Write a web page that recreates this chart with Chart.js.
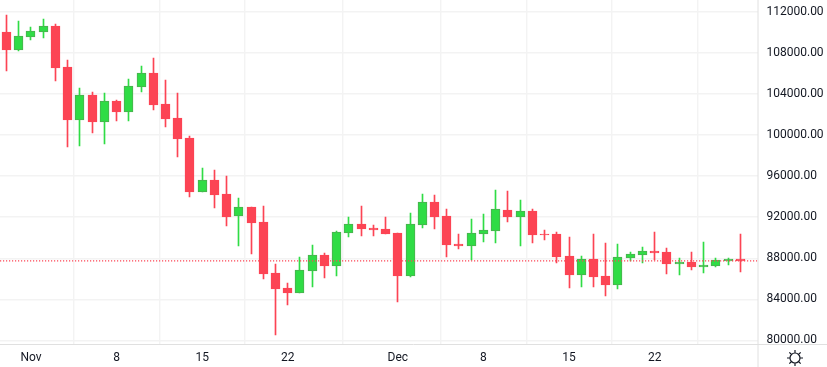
<!DOCTYPE html>
<html>
<head>
<meta charset="utf-8">
<style>
  html, body { margin: 0; padding: 0; background: #fff; }
  #wrap { width: 827px; height: 367px; }
</style>
<script src="https://cdn.jsdelivr.net/npm/chart.js@4"></script>
</head>
<body>
<div id="wrap"><canvas id="btcChart" width="827" height="367"></canvas></div>
<script>
const days = [
  "Oct 30", "Oct 31", "Nov 1", "Nov 2", "Nov 3", "Nov 4", "Nov 5", "Nov 6", "Nov 7", "Nov 8", "Nov 9",
  "Nov 10", "Nov 11", "Nov 12", "Nov 13", "Nov 14", "Nov 15", "Nov 16", "Nov 17", "Nov 18", "Nov 19",
  "Nov 20", "Nov 21", "Nov 22", "Nov 23", "Nov 24", "Nov 25", "Nov 26", "Nov 27", "Nov 28", "Nov 29",
  "Nov 30", "Dec 1", "Dec 2", "Dec 3", "Dec 4", "Dec 5", "Dec 6", "Dec 7", "Dec 8", "Dec 9",
  "Dec 10", "Dec 11", "Dec 12", "Dec 13", "Dec 14", "Dec 15", "Dec 16", "Dec 17", "Dec 18", "Dec 19",
  "Dec 20", "Dec 21", "Dec 22", "Dec 23", "Dec 24", "Dec 25", "Dec 26", "Dec 27", "Dec 28", "Dec 29"
];
const opens = [
  110003, 108250, 109516, 110003, 110587, 106593, 101431, 103866, 101236, 103282, 102210,
  104645, 106009, 102990, 101625, 99679, 94418, 95587, 94224, 92081, 92957,
  91496, 86528, 85067, 84580, 86723, 88282, 87210, 90425, 91301, 90912,
  90815, 90425, 86237, 91204, 93445, 92081, 89354, 89159, 90328, 90620,
  92666, 91984, 92568, 90328, 90328, 88185, 86334, 87893, 86237, 85360,
  87990, 88283, 88672, 88575, 87406, 87601, 87114, 87211, 87698, 87893
];
const highs = [
  111659, 111074, 110490, 111269, 110782, 107275, 104548, 104158, 104061, 103380, 105425,
  106691, 107470, 105327, 104061, 99873, 96756, 96562, 95977, 93834, 92957,
  93055, 87405, 85554, 88087, 89256, 88477, 90619, 91983, 93055, 91204,
  91984, 90425, 92373, 94224, 94127, 92763, 90328, 91789, 92276, 94614,
  94516, 93640, 92763, 90717, 90523, 90036, 88185, 90328, 89451, 89354,
  88575, 89062, 90523, 88965, 87990, 88575, 89549, 87990, 87990, 90328
];
const lows = [
  106204, 108152, 109224, 109418, 105230, 98800, 98898, 100165, 99093, 101333, 101333,
  104158, 102405, 100749, 97827, 93932, 94418, 92860, 91107, 89158, 88379,
  85944, 80489, 83411, 84580, 85164, 86041, 86236, 90035, 90132, 90132,
  90328, 83704, 86139, 90912, 90815, 88087, 88867, 87795, 89549, 89451,
  91497, 89159, 89451, 89743, 87503, 85068, 85166, 85166, 84289, 84971,
  87698, 87503, 87796, 86432, 86334, 86821, 86529, 87114, 87309, 86627
];
const closes = [
  108250, 109613, 110100, 110587, 106496, 101431, 103866, 101236, 103282, 102210, 104743,
  106009, 102892, 101528, 99581, 94418, 95587, 94126, 91983, 92957, 91399,
  86431, 84970, 84580, 86820, 88282, 87210, 90522, 91301, 90814, 90717,
  90328, 86237, 91302, 93445, 91984, 89256, 89159, 90425, 90717, 92763,
  91984, 92568, 90230, 90230, 88087, 86334, 87893, 86140, 85360, 88088,
  88380, 88672, 88477, 87406, 87601, 87114, 87309, 87796, 87893, 87740
];
const tickDays = ["Nov 1", "Nov 8", "Nov 15", "Nov 22", "Dec 1", "Dec 8", "Dec 15", "Dec 22"];
const tickTexts = ["Nov", "8", "15", "22", "Dec", "8", "15", "22"];
const priceTicks = [80000, 84000, 88000, 92000, 96000, 100000, 104000, 108000, 112000];

const RED = "#fc4454";
const GREEN = "#2fdc45";
const GREEN_EDGE = "#4caf50";
const X_MIN = -0.53, X_MAX = 61.41;
const lastClose = closes[closes.length - 1];

const isUp = (i) => closes[i] >= opens[i];

// snap bars to whole pixels, otherwise the 1px wicks come out blurry
const pixelSnap = {
  id: "pixelSnap",
  beforeDatasetsDraw(chart) {
    chart.data.datasets.forEach((ds, n) => {
      if (ds.type !== "bar") return;
      chart.getDatasetMeta(n).data.forEach((el) => {
        el.x = Math.floor(el.x) + 0.5;
        el.y = Math.round(el.y);
        el.base = Math.round(el.base);
      });
    });
  }
};

// the pane frame and the little settings icon in the corner
const paneFrame = {
  id: "paneFrame",
  afterDraw(chart) {
    const c = chart.ctx, a = chart.chartArea;
    c.save();
    c.fillStyle = "#fff";
    c.fillRect(a.right + 1, a.bottom, chart.width - a.right, chart.height - a.bottom);
    c.strokeStyle = "#e0e0e0";
    c.lineWidth = 1;
    c.beginPath();
    c.moveTo(0, a.bottom + 0.5);
    c.lineTo(chart.width, a.bottom + 0.5);
    c.moveTo(a.right + 0.5, 0);
    c.lineTo(a.right + 0.5, chart.height);
    c.stroke();

    const ix = 795, iy = 358;
    c.strokeStyle = "#131722";
    c.lineWidth = 1.2;
    c.beginPath();
    c.arc(ix, iy, 5, 0, Math.PI * 2);
    for (let k = 0; k < 8; k++) {
      const t = k * Math.PI / 4;
      c.moveTo(ix + Math.cos(t) * 5, iy + Math.sin(t) * 5);
      c.lineTo(ix + Math.cos(t) * 8, iy + Math.sin(t) * 8);
    }
    c.stroke();
    c.restore();
  }
};

new Chart(document.getElementById("btcChart"), {
  data: {
    datasets: [
      {
        type: "line",
        data: [{ x: X_MIN, y: lastClose }, { x: X_MAX, y: lastClose }],
        borderColor: RED,
        borderWidth: 1.2,
        borderDash: [1.2, 1.8],
        pointRadius: 0,
        order: 0
      },
      {
        type: "bar",
        data: days.map((d, i) => ({ x: i, y: [opens[i], closes[i]] })),
        backgroundColor: days.map((d, i) => isUp(i) ? GREEN : RED),
        borderColor: days.map((d, i) => isUp(i) ? GREEN_EDGE : RED),
        borderWidth: 1,
        borderSkipped: false,
        barThickness: 9,
        grouped: false,
        order: 1
      },
      {
        type: "bar",
        data: days.map((d, i) => ({ x: i, y: [lows[i], highs[i]] })),
        backgroundColor: days.map((d, i) => isUp(i) ? GREEN : RED),
        borderWidth: 0,
        barThickness: 1,
        grouped: false,
        order: 2
      }
    ]
  },
  options: {
    responsive: false,
    animation: false,
    layout: { padding: 0 },
    plugins: {
      legend: { display: false },
      title: { display: false },
      tooltip: { enabled: false }
    },
    scales: {
      x: {
        type: "linear",
        min: X_MIN,
        max: X_MAX,
        offset: false,
        afterBuildTicks: (scale) => {
          scale.ticks = tickDays.map((d) => ({ value: days.indexOf(d) }));
        },
        afterFit: (scale) => {
          scale.height = 23;
          scale.paddingLeft = 0;
          scale.paddingRight = 0;
        },
        grid: { color: "#f3f3f3", lineWidth: 1.4, drawTicks: false },
        border: { display: false },
        ticks: {
          autoSkip: false,
          maxRotation: 0,
          padding: 7,
          color: "#131722",
          font: { family: "Roboto", size: 12 },
          callback: (v) => tickTexts[tickDays.indexOf(days[v])]
        }
      },
      y: {
        type: "linear",
        position: "right",
        min: 79659,
        max: 113120,
        afterBuildTicks: (scale) => {
          scale.ticks = priceTicks.map((v) => ({ value: v }));
        },
        afterFit: (scale) => {
          scale.width = 69.5;
          scale.paddingTop = 0;
          scale.paddingBottom = 0;
        },
        grid: { color: "#f3f3f3", lineWidth: 1.4, drawTicks: false },
        border: { display: false },
        ticks: {
          autoSkip: false,
          crossAlign: "near",
          padding: 9,
          color: "#131722",
          font: { family: "Roboto", size: 12 },
          callback: (v) => v.toFixed(2)
        }
      }
    }
  },
  plugins: [pixelSnap, paneFrame]
});
</script>
</body>
</html>
